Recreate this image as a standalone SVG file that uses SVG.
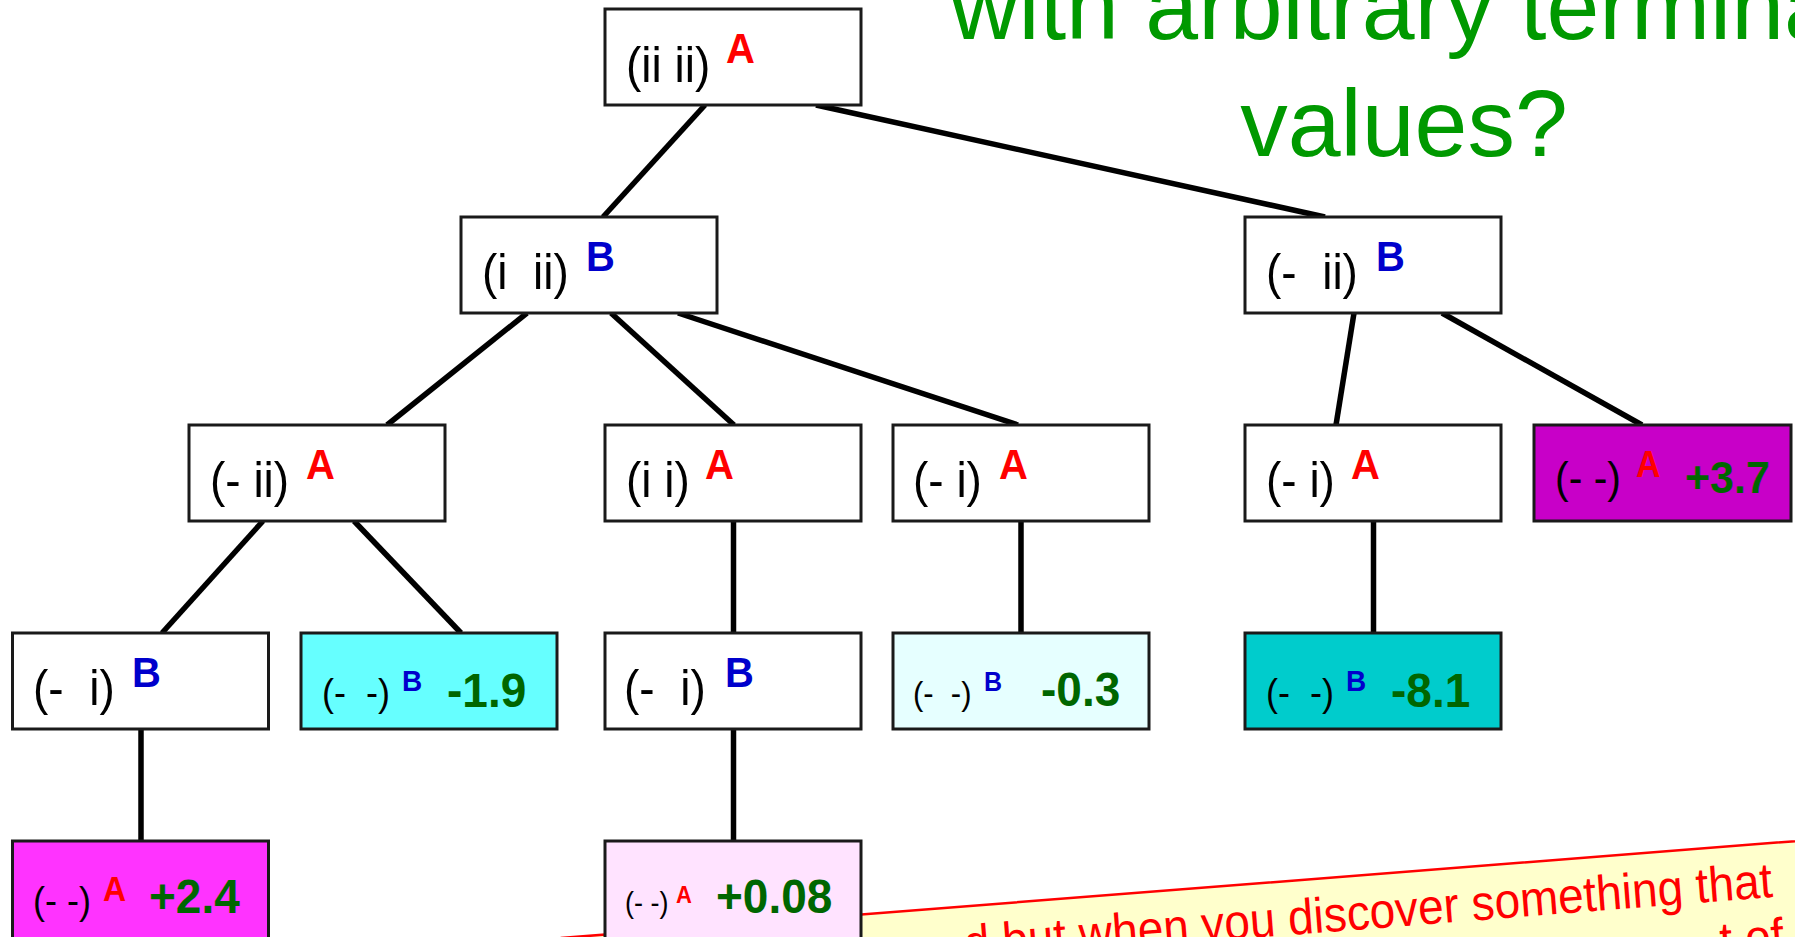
<svg xmlns="http://www.w3.org/2000/svg" width="1795" height="937" viewBox="0 0 1795 937">
<style>
.box{stroke:#1a1a1a;stroke-width:3;fill:#ffffff}
.lbl{font-family:"Liberation Sans",Arial,sans-serif;font-size:46px;fill:#000;white-space:pre}
.A{font-family:"Liberation Sans",Arial,sans-serif;font-weight:bold;font-size:40px;fill:#ff0000}
.B{font-family:"Liberation Sans",Arial,sans-serif;font-weight:bold;font-size:40px;fill:#0000cc}
.val{font-family:"Liberation Sans",Arial,sans-serif;font-weight:bold;font-size:46px;fill:#006600}
.title{font-family:"Liberation Sans",Arial,sans-serif;font-size:95px;fill:#009900;text-anchor:middle}
.note{font-family:"Liberation Sans",Arial,sans-serif;font-size:46px;fill:#ff0000;text-anchor:end}
#connectors line{stroke:#000;stroke-width:5.5}
</style>
<rect width="1795" height="937" fill="#ffffff"/>
<g id="title">
<text class="title" x="1404" y="39">with arbitrary terminal</text>
<text class="title" x="1404" y="156">values?</text>
</g>
<g id="connectors">
<line x1="705" y1="105" x2="603" y2="217"/>
<line x1="816" y1="105" x2="1325" y2="217"/>
<line x1="527" y1="313" x2="387" y2="425"/>
<line x1="611" y1="313" x2="734" y2="425"/>
<line x1="678" y1="313" x2="1018" y2="425"/>
<line x1="1354" y1="313" x2="1336" y2="425"/>
<line x1="1442" y1="313" x2="1642" y2="425"/>
<line x1="263" y1="521" x2="162" y2="633"/>
<line x1="354" y1="521" x2="461" y2="633"/>
<line x1="733.5" y1="521" x2="733.5" y2="633"/>
<line x1="1021" y1="521" x2="1021" y2="633"/>
<line x1="1373.5" y1="521" x2="1373.5" y2="633"/>
<line x1="141" y1="729" x2="141" y2="841"/>
<line x1="733.5" y1="729" x2="733.5" y2="841"/>
</g>
<g id="callout" transform="translate(861,914.5) rotate(-4.49)">
<rect x="-300" y="0" width="1300" height="260" fill="#ffffcc" stroke="#ff0000" stroke-width="2.5"/>
<text class="note" transform="translate(911 54) scale(1 1.08)">d but when you discover something that</text>
<text class="note" transform="translate(918 110) scale(1 1.08)">t of</text>
</g>
<g id="n_root"><rect class="box" x="605" y="9" width="256" height="96"/><text class="lbl" transform="translate(626 82) scale(1 1.1)">(ii ii)</text><text class="A" transform="translate(726 63) scale(1 1.08)">A</text></g>
<g id="n_i_ii"><rect class="box" x="461" y="217" width="256" height="96"/><text class="lbl" transform="translate(482 289) scale(1 1.1)">(i  ii)</text><text class="B" transform="translate(586 271) scale(1 1.08)">B</text></g>
<g id="n_m_ii_B"><rect class="box" x="1245" y="217" width="256" height="96"/><text class="lbl" transform="translate(1266 289) scale(1 1.1)">(-  ii)</text><text class="B" transform="translate(1376 271) scale(1 1.08)">B</text></g>
<g id="n_m_ii_A"><rect class="box" x="189" y="425" width="256" height="96"/><text class="lbl" transform="translate(210 497) scale(1 1.1)">(- ii)</text><text class="A" transform="translate(306 479) scale(1 1.08)">A</text></g>
<g id="n_i_i"><rect class="box" x="605" y="425" width="256" height="96"/><text class="lbl" transform="translate(626 497) scale(1 1.1)">(i i)</text><text class="A" transform="translate(705 479) scale(1 1.08)">A</text></g>
<g id="n_m_i_A1"><rect class="box" x="893" y="425" width="256" height="96"/><text class="lbl" transform="translate(913 497) scale(1 1.1)">(- i)</text><text class="A" transform="translate(999 479) scale(1 1.08)">A</text></g>
<g id="n_m_i_A2"><rect class="box" x="1245" y="425" width="256" height="96"/><text class="lbl" transform="translate(1266 497) scale(1 1.1)">(- i)</text><text class="A" transform="translate(1351 479) scale(1 1.08)">A</text></g>
<g id="n_p37"><rect class="box" x="1534" y="425" width="257" height="96" style="fill:#c800c8"/><text class="lbl" style="font-size:41px" transform="translate(1555 493) scale(1 1.1)">(- -)</text><text class="A" style="font-size:34px" transform="translate(1636 477) scale(1 1.08)">A</text><text class="val" style="font-size:43px" transform="translate(1685 493) scale(1 1.05)">+3.7</text></g>
<g id="n_m_i_B1"><rect class="box" x="12.5" y="633" width="256" height="96"/><text class="lbl" transform="translate(33 705) scale(1 1.1)">(-  i)</text><text class="B" transform="translate(132 687) scale(1 1.08)">B</text></g>
<g id="n_m19"><rect class="box" x="301" y="633" width="256" height="96" style="fill:#66ffff"/><text class="lbl" style="font-size:36px" transform="translate(322 706) scale(1 1.1)">(-  -)</text><text class="B" style="font-size:28px" transform="translate(402 691) scale(1 1.08)">B</text><text class="val" transform="translate(447 707) scale(1 1.05)">-1.9</text></g>
<g id="n_m_i_B2"><rect class="box" x="605" y="633" width="256" height="96"/><text class="lbl" transform="translate(624 705) scale(1 1.1)">(-  i)</text><text class="B" transform="translate(725 687) scale(1 1.08)">B</text></g>
<g id="n_m03"><rect class="box" x="893" y="633" width="256" height="96" style="fill:#e6ffff"/><text class="lbl" style="font-size:31px" transform="translate(913 705) scale(1 1.1)">(-  -)</text><text class="B" style="font-size:25px" transform="translate(984 691) scale(1 1.08)">B</text><text class="val" transform="translate(1041 706) scale(1 1.05)">-0.3</text></g>
<g id="n_m81"><rect class="box" x="1245" y="633" width="256" height="96" style="fill:#00cccc"/><text class="lbl" style="font-size:36px" transform="translate(1266 706) scale(1 1.1)">(-  -)</text><text class="B" style="font-size:28px" transform="translate(1346 691) scale(1 1.08)">B</text><text class="val" transform="translate(1391 707) scale(1 1.05)">-8.1</text></g>
<g id="n_p24"><rect class="box" x="12.5" y="841" width="256" height="100" style="fill:#ff33ff"/><text class="lbl" style="font-size:36px" transform="translate(33 914) scale(1 1.1)">(- -)</text><text class="A" style="font-size:32px" transform="translate(103 901) scale(1 1.08)">A</text><text class="val" transform="translate(149 913) scale(1 1.05)">+2.4</text></g>
<g id="n_p008"><rect class="box" x="605" y="841" width="256" height="100" style="fill:#ffe3ff"/><text class="lbl" style="font-size:27px" transform="translate(625 913) scale(1 1.1)">(- -)</text><text class="A" style="font-size:22px" transform="translate(676 903) scale(1 1.08)">A</text><text class="val" transform="translate(716 913) scale(1 1.05)">+0.08</text></g>
</svg>
